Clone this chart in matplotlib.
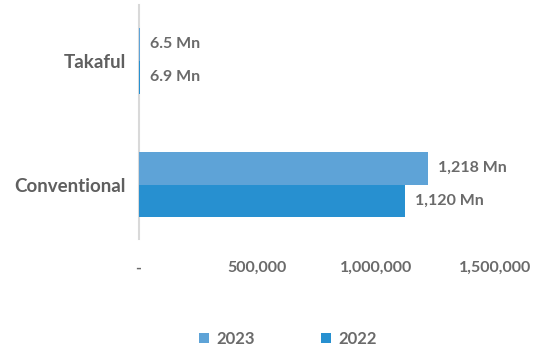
import numpy as np
import matplotlib.pyplot as plt

categories = ['Conventional', 'Takaful']
values_2023 = [1218000, 6500]
values_2022 = [1120000, 6900]
labels_2023 = ['1,218 Mn', '6.5 Mn']
labels_2022 = ['1,120 Mn', '6.9 Mn']
xticks = [0, 500000, 1000000, 1500000]
xtick_labels = ['-', '500,000', '1,000,000', '1,500,000']

c2023 = '#5EA3D7'
c2022 = '#2790D0'
txt = '#6A6A6A'

plt.rcParams['font.family'] = ['Lato', 'DejaVu Sans']
plt.rcParams['font.weight'] = 'bold'

fig = plt.figure(figsize=(5.51, 3.51), dpi=100)
ax = fig.add_axes([138.5 / 551, 1 - 239 / 351, (518.7 - 138.5) / 551, 234 / 351])

y = np.arange(len(categories))
h = 0.266
b1 = ax.barh(y + h / 2, values_2023, height=h, color=c2023, label='2023', zorder=3)
b2 = ax.barh(y - h / 2, values_2022, height=h, color=c2022, label='2022', zorder=3)

for bars, labs in [(b1, labels_2023), (b2, labels_2022)]:
    for bar, lab in zip(bars, labs):
        ax.annotate(lab, (bar.get_width(), bar.get_y() + bar.get_height() / 2),
                    xytext=(10, 0), textcoords='offset pixels',
                    ha='left', va='center', fontsize=11.5, color=txt, fontweight='bold')

ax.set_xlim(0, 1600000)
ax.set_ylim(-0.44, 1.45)
ax.set_yticks(y)
ax.set_yticklabels(categories, fontsize=13.5, color='#5F5F5F', fontweight='bold')
ax.set_xticks(xticks)
ax.set_xticklabels(xtick_labels, fontsize=11.5, color=txt, fontweight='bold')
ax.tick_params(axis='x', length=0, pad=16)
ax.tick_params(axis='y', length=0, pad=9)

for s in ['top', 'right', 'bottom']:
    ax.spines[s].set_visible(False)
ax.spines['left'].set_color('#D9D9D9')
ax.spines['left'].set_linewidth(1.5)
ax.spines['left'].set_zorder(1)

fig.legend(handles=[b1, b2], loc='center', bbox_to_anchor=(288 / 551, 1 - 339 / 351),
           ncol=2, frameon=False, fontsize=12, handlelength=0.6, handleheight=0.6,
           columnspacing=4.0, handletextpad=0.45, labelcolor=txt)

fig.savefig('out.png', dpi=100)
